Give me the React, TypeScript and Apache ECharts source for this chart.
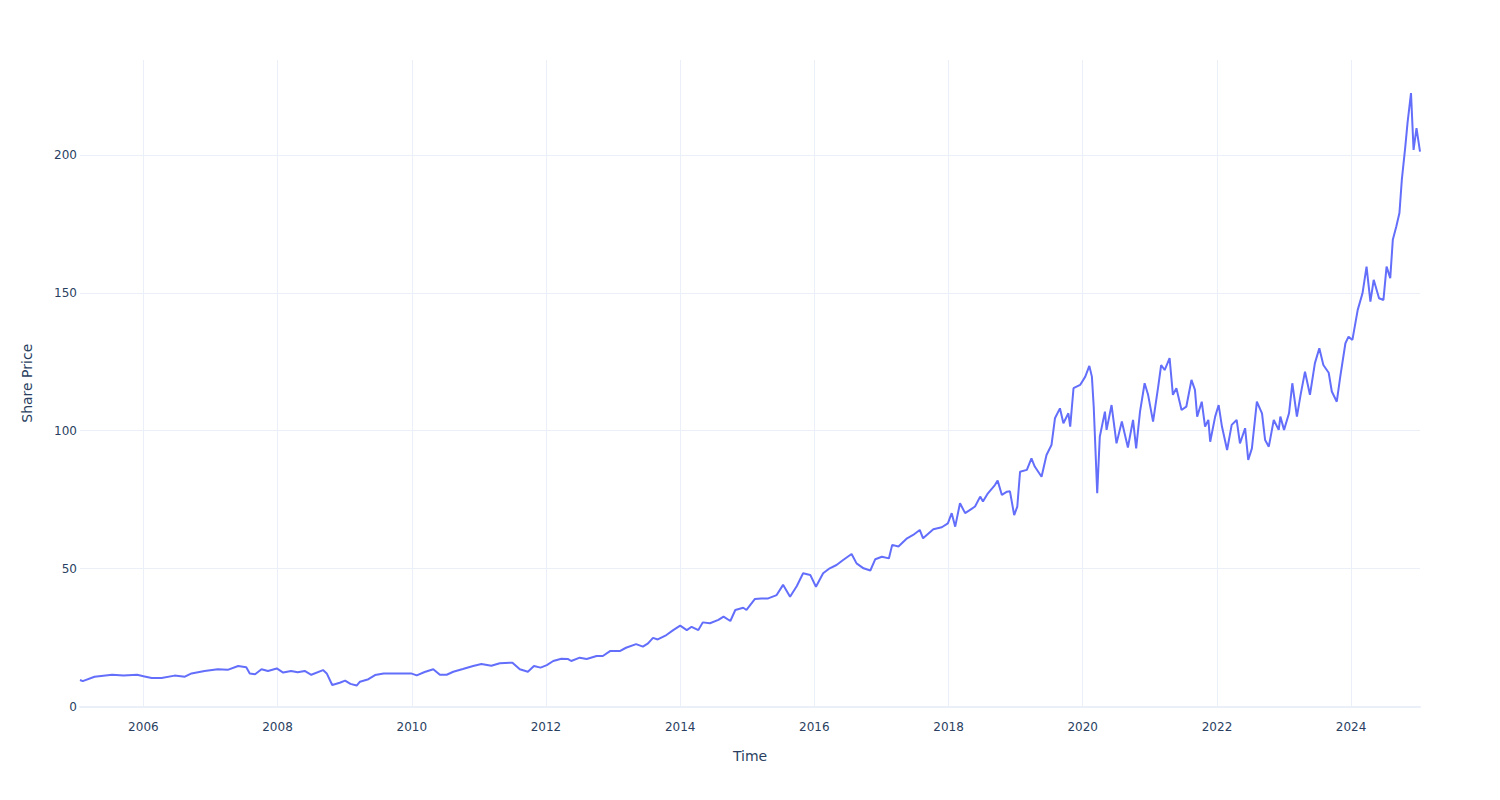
import React, { useEffect, useRef } from "react";
import * as echarts from "echarts";

const dates: string[] = [
  "2005-01-21","2005-02-05","2005-04-10","2005-07-15","2005-09-15","2005-11-28","2006-01-01","2006-02-15","2006-04-10","2006-06-20",
  "2006-08-15","2006-09-20","2006-11-30","2007-02-10","2007-04-05","2007-06-01","2007-07-15","2007-08-03","2007-09-01","2007-10-06",
  "2007-11-10","2007-12-28","2008-02-01","2008-03-15","2008-04-20","2008-05-28","2008-07-03","2008-09-05","2008-09-25","2008-10-25",
  "2008-12-05","2009-01-03","2009-02-01","2009-03-07","2009-03-25","2009-05-10","2009-06-15","2009-08-01","2009-10-12","2009-12-28",
  "2010-01-28","2010-03-12","2010-04-28","2010-06-03","2010-07-10","2010-08-15","2010-10-06","2010-12-01","2011-01-15","2011-03-10",
  "2011-04-25","2011-07-03","2011-08-12","2011-09-25","2011-10-28","2011-12-03","2012-01-06","2012-02-10","2012-03-25","2012-05-01",
  "2012-05-18","2012-07-03","2012-08-10","2012-10-03","2012-11-06","2012-12-15","2013-02-06","2013-03-12","2013-05-06","2013-06-12",
  "2013-07-10","2013-08-06","2013-09-01","2013-10-18","2013-11-24","2014-01-01","2014-02-06","2014-03-04","2014-04-10","2014-05-04",
  "2014-06-12","2014-07-28","2014-08-25","2014-10-01","2014-10-28","2014-12-10","2014-12-28","2015-02-12","2015-03-18","2015-04-25",
  "2015-06-10","2015-07-15","2015-08-22","2015-09-28","2015-11-01","2015-12-10","2016-01-10","2016-02-18","2016-03-25","2016-05-01",
  "2016-06-06","2016-07-22","2016-08-18","2016-09-25","2016-11-01","2016-11-28","2017-01-03","2017-02-10","2017-02-28","2017-04-03",
  "2017-05-20","2017-06-22","2017-07-28","2017-08-15","2017-10-10","2017-11-25","2017-12-28","2018-01-18","2018-02-06","2018-03-04",
  "2018-04-01","2018-04-28","2018-05-25","2018-06-22","2018-07-07","2018-08-03","2018-09-10","2018-09-25","2018-10-18","2018-11-15",
  "2018-12-01","2018-12-24","2019-01-10","2019-01-25","2019-03-03","2019-03-28","2019-04-15","2019-05-22","2019-06-18","2019-07-15",
  "2019-08-03","2019-08-30","2019-09-18","2019-10-15","2019-10-25","2019-11-12","2019-12-18","2020-01-15","2020-02-06","2020-02-20",
  "2020-03-01","2020-03-20","2020-04-03","2020-05-01","2020-05-10","2020-06-06","2020-07-03","2020-08-01","2020-09-03","2020-10-01",
  "2020-10-18","2020-11-08","2020-12-03","2020-12-22","2021-01-18","2021-02-15","2021-03-03","2021-03-22","2021-04-18","2021-05-06",
  "2021-05-25","2021-06-22","2021-07-18","2021-08-15","2021-09-03","2021-09-15","2021-10-10","2021-10-28","2021-11-15","2021-11-25",
  "2021-12-22","2022-01-10","2022-01-28","2022-02-25","2022-03-22","2022-04-18","2022-05-06","2022-06-03","2022-06-20","2022-07-10",
  "2022-08-06","2022-09-03","2022-09-20","2022-10-10","2022-11-06","2022-12-03","2022-12-12","2023-01-01","2023-01-28","2023-02-15",
  "2023-03-12","2023-04-01","2023-04-25","2023-05-22","2023-06-18","2023-07-12","2023-08-03","2023-09-01","2023-09-18","2023-10-15",
  "2023-11-03","2023-12-01","2023-12-18","2024-01-08","2024-02-06","2024-03-03","2024-03-25","2024-04-15","2024-05-03","2024-06-01",
  "2024-06-25","2024-07-12","2024-08-01","2024-08-15","2024-09-03","2024-09-20","2024-10-03","2024-10-22","2024-11-03","2024-11-22",
  "2024-12-06","2024-12-22","2025-01-10"
];

const prices: number[] = [
  9.6, 9.2, 10.8, 11.5, 11.2, 11.5, 11.0, 10.3, 10.3, 11.2,
  10.8, 12.0, 12.9, 13.5, 13.3, 14.7, 14.2, 12.0, 11.7, 13.5,
  12.9, 13.8, 12.3, 12.9, 12.4, 12.9, 11.5, 13.2, 12.0, 7.8,
  8.6, 9.4, 8.2, 7.6, 9.0, 9.9, 11.4, 12.0, 12.0, 12.0,
  11.3, 12.5, 13.5, 11.5, 11.5, 12.6, 13.6, 14.7, 15.4, 14.8,
  15.7, 15.9, 13.5, 12.6, 14.7, 14.1, 15.0, 16.5, 17.3, 17.2,
  16.5, 17.7, 17.2, 18.3, 18.3, 20.1, 20.1, 21.3, 22.6, 21.7,
  22.9, 24.9, 24.3, 25.9, 27.7, 29.3, 27.7, 28.9, 27.7, 30.5,
  30.2, 31.4, 32.6, 31.0, 35.0, 35.8, 35.0, 39.0, 39.2, 39.2,
  40.4, 44.1, 39.8, 43.7, 48.3, 47.7, 43.4, 48.3, 50.1, 51.3,
  53.1, 55.3, 51.9, 50.1, 49.3, 53.4, 54.3, 53.7, 58.6, 58.0,
  61.0, 62.2, 64.0, 61.0, 64.3, 65.0, 66.4, 70.1, 65.2, 73.7,
  70.1, 71.3, 72.5, 76.1, 74.3, 77.3, 80.3, 81.9, 76.7, 77.9,
  78.0, 69.4, 72.5, 85.1, 85.8, 90.0, 87.0, 83.3, 91.2, 94.8,
  104.5, 108.1, 102.7, 106.3, 101.5, 115.4, 116.6, 119.6, 123.5, 119.6,
  108.7, 77.3, 97.8, 106.9, 100.3, 109.3, 95.4, 103.3, 93.9, 103.9,
  93.6, 106.9, 117.2, 113.0, 103.3, 116.0, 123.8, 122.0, 126.3, 113.0,
  115.4, 107.5, 108.7, 118.4, 114.8, 105.1, 110.5, 101.5, 103.9, 96.0,
  105.1, 109.3, 101.5, 93.0, 102.1, 103.9, 95.4, 100.9, 89.4, 93.6,
  110.5, 106.3, 96.6, 94.2, 103.9, 100.3, 105.1, 100.3, 106.3, 117.2,
  105.1, 113.0, 121.4, 113.0, 124.5, 129.9, 123.8, 121.0, 114.2, 110.5,
  119.6, 131.7, 134.1, 132.9, 143.8, 149.8, 159.5, 146.8, 154.7, 148.0,
  147.4, 159.5, 155.3, 169.2, 174.0, 178.9, 190.9, 203.0, 211.5, 222.4,
  201.8, 209.7, 201.2
];

const xTickYears: number[] = [2006, 2008, 2010, 2012, 2014, 2016, 2018, 2020, 2022, 2024];
const yTicks: number[] = [0, 50, 100, 150, 200];

const xMin = "2005-01-21";
const xMax = "2025-01-10";
const yMax = 234.4;

const TEXT = "#2a3f5f";
const GRID = "#ebf0f8";
const FONT = "'DejaVu Sans', Verdana, sans-serif";

const toMs = (d: string) => Date.parse(d + "T00:00:00Z");

export default function App() {
  const ref = useRef<HTMLDivElement>(null);
  useEffect(() => {
    if (!ref.current) return;
    const chart = echarts.init(ref.current, null, { renderer: "svg" });
    const tickValues = xTickYears.map((y) => Date.UTC(y, 0, 1));
    chart.setOption({
      animation: false,
      backgroundColor: "#ffffff",
      textStyle: { fontFamily: FONT },
      grid: { left: 80, right: 80, top: 60, bottom: 93.5, containLabel: false },
      xAxis: {
        type: "value",
        min: toMs(xMin),
        max: toMs(xMax),
        name: "Time",
        nameLocation: "middle",
        nameGap: 42,
        nameTextStyle: { color: TEXT, fontSize: 14, fontFamily: FONT },
        axisLine: { show: true, onZero: false, lineStyle: { color: GRID, width: 2 } },
        axisTick: { show: false, customValues: tickValues },
        axisLabel: {
          customValues: tickValues,
          color: TEXT,
          fontSize: 12,
          fontFamily: FONT,
          margin: 14,
          formatter: (v: number) => String(new Date(v).getUTCFullYear()),
        },
        splitLine: { show: true, lineStyle: { color: GRID, width: 1 } },
      },
      yAxis: {
        type: "value",
        min: 0,
        max: yMax,
        name: "Share Price",
        nameLocation: "middle",
        nameGap: 46,
        nameTextStyle: { color: TEXT, fontSize: 14, fontFamily: FONT },
        axisLine: { show: false },
        axisTick: { show: false, customValues: yTicks },
        axisLabel: {
          customValues: yTicks,
          color: TEXT,
          fontSize: 12,
          fontFamily: FONT,
          margin: 3,
        },
        splitLine: { show: true, lineStyle: { color: GRID, width: 1 } },
      },
      series: [
        {
          type: "line",
          data: dates.map((d, i) => [toMs(d), prices[i]]),
          showSymbol: false,
          symbol: "none",
          lineStyle: { color: "#636efa", width: 2 },
          itemStyle: { color: "#636efa" },
        },
      ],
    });
    return () => chart.dispose();
  }, []);
  return (
    <div
      ref={ref}
      style={{ position: "fixed", left: 0, top: 0, width: 1500, height: 800, background: "#fff" }}
    />
  );
}
